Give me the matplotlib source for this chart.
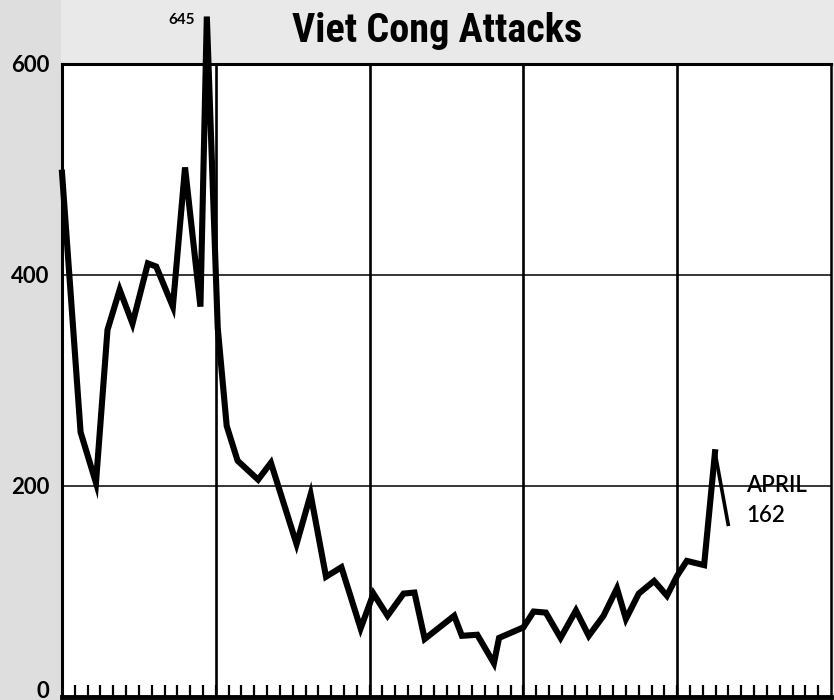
import matplotlib
matplotlib.use("Agg")
import matplotlib.pyplot as plt
from matplotlib import font_manager
from matplotlib.transforms import offset_copy

# ---- data ----
months = [0.0, 1.45, 2.65, 3.55, 4.5, 5.5, 6.7, 7.35, 8.65, 9.6, 10.8, 11.3,
          12.15, 12.85, 13.7, 15.3, 16.3, 18.3, 19.4, 20.6, 21.8, 23.3,
          24.3, 25.4, 26.65, 27.5, 28.3, 30.6, 31.2, 32.4, 33.7, 34.1,
          36.0, 36.8, 37.75, 38.9, 40.1, 41.1, 42.25, 43.3, 44.0, 45.0,
          46.2, 47.2, 48.0, 48.75, 50.1, 50.95, 52.0]
attacks = [497, 251, 203, 348, 386, 354, 411, 408, 370, 502, 370, 645,
           350, 257, 224, 206, 222, 145, 192, 114, 123, 65,
           98, 77, 98, 99, 55, 77, 58, 59, 32, 56,
           66, 81, 80, 56, 82, 58, 77, 103, 74, 98,
           110, 96, 115, 129, 125, 232, 162]
yticks = [0, 200, 400, 600]
ytick_labels = ["0", "200", "400", "600"]
year_lines = [12, 24, 36, 48]
title = "Viet Cong Attacks"
peak_label = "645"
end_label = "APRIL\n162"

avail = {f.name for f in font_manager.fontManager.ttflist}
title_font, title_size = "Liberation Sans", 25
for cand, size in [("Liberation Sans Narrow", 29), ("Roboto Condensed", 29),
                   ("DejaVu Sans Condensed", 27), ("Open Sans Condensed", 29)]:
    if cand in avail:
        title_font, title_size = cand, size
        break
label_font = "Lato" if "Lato" in avail else "DejaVu Sans"

fig = plt.figure(figsize=(8.34, 7.0), dpi=100, facecolor="#e9e9e9")
# darker speckled strip on the left of the scan (behind everything)
strip = plt.Rectangle((0, 0), 61 / 834, 1, transform=fig.transFigure,
                      facecolor="#dedede", edgecolor="none", zorder=-5)
fig.patches.append(strip)
ax = fig.add_axes([62 / 834, 3 / 700, 769 / 834, 633 / 700])
ax.set_zorder(1)
ax.set_facecolor("white")
ax.set_xlim(0, 60)
ax.set_ylim(0, 600)

# grid
for yl in [200, 400]:
    ax.axhline(yl, color="black", lw=1.1, zorder=1)
for xl in year_lines:
    ax.axvline(xl, color="black", lw=1.9, zorder=1)

# main line (last tapering segment thinner)
ax.plot(months[:-1], attacks[:-1], color="black", lw=4.4,
        solid_joinstyle="miter", clip_on=False, zorder=3)
ax.plot(months[-2:], attacks[-2:], color="black", lw=2.6,
        solid_capstyle="butt", clip_on=False, zorder=3)

# spines
for side, lw in [("top", 2.2), ("left", 2.2), ("right", 1.8), ("bottom", 3.5)]:
    ax.spines[side].set_linewidth(lw)
    ax.spines[side].set_color("black")

# ticks
ax.set_xticks(range(1, 60))
ax.tick_params(axis="x", direction="in", length=9, width=1.6,
               labelbottom=False, color="black")
ax.set_yticks(yticks)
ax.set_yticklabels(ytick_labels, fontsize=16, fontfamily=label_font,
                   fontweight="bold")
ax.tick_params(axis="y", length=0, pad=9)
# keep the "0" label inside the picture
zero_lbl = ax.get_yticklabels()[0]
zero_lbl.set_transform(offset_copy(zero_lbl.get_transform(), fig=fig, x=0, y=8, units="dots"))

# annotations
fig.text(0.524, 658 / 700, title, ha="center", va="baseline", fontsize=title_size,
         fontweight="bold", fontfamily=title_font)
ax.text(9.3, 642, peak_label, ha="center", va="center", fontsize=11,
        fontweight="bold", fontfamily=label_font, clip_on=False)
ax.text(53.4, 186, end_label, ha="left", va="center", fontsize=16,
        fontfamily=label_font, fontweight="semibold", linespacing=1.55)

fig.savefig("out.png", dpi=100, facecolor=fig.get_facecolor())
